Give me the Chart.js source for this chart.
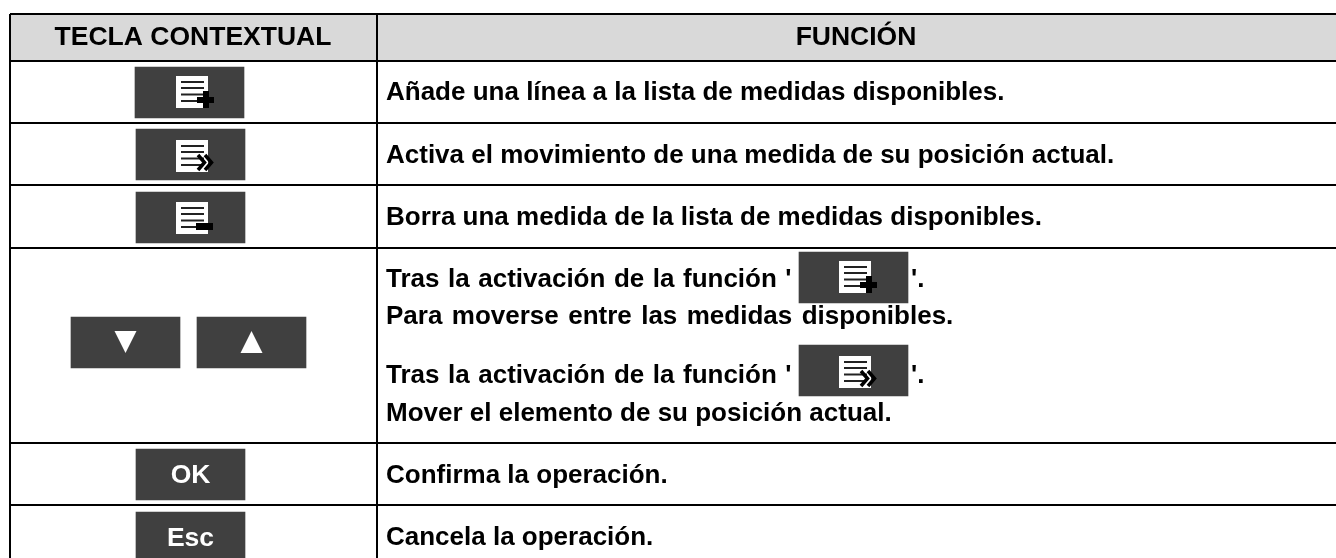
<!DOCTYPE html>
<html>
<head>
<meta charset="utf-8">
<script src="https://cdn.jsdelivr.net/npm/chart.js@4"></script>
<style>
  html, body { margin: 0; padding: 0; background: #fff; }
  canvas { display: block; }
</style>
</head>
<body>
<canvas id="tabla" width="1336" height="558"></canvas>
<script>
/*********-datos de la tabla-*********/
const CABECERAS = ["TECLA CONTEXTUAL", "FUNCIÓN"];
const CABECERAS_X = [193, 856];
const CABECERA_Y = 45;

const FILAS = [
  "Añade una línea a la lista de medidas disponibles.",
  "Activa el movimiento de una medida de su posición actual.",
  "Borra una medida de la lista de medidas disponibles.",
  "Tras la activación de la función '",
  "'.",
  "Para moverse entre las medidas disponibles.",
  "Tras la activación de la función '",
  "'.",
  "Mover el elemento de su posición actual.",
  "Confirma la operación.",
  "Cancela la operación."
];
const FILAS_X = [386, 386, 386, 386, 911, 386, 386, 911, 386, 386, 386];
const FILAS_Y = [100, 163, 225, 287, 287, 324, 383, 383, 421, 483, 545];
// las lineas con tecla dentro van con los espacios mas anchos
const FILAS_ESPACIO = [0, 0, 0, 1.3, 0, 2.2, 1.3, 0, 0, 0, 0];

// lineas de la tabla
const LINEAS_Y = [14, 61, 123, 185, 248, 443, 505];
const LINEAS_X = [10, 377];

// teclas
const TECLAS_ICONO = ["mas", "flecha", "menos", "abajo", "arriba", "mas", "flecha", "", ""];
const TECLAS_TEXTO = ["", "", "", "", "", "", "", "OK", "Esc"];
const TECLAS_INICIO = [135, 136, 136, 71, 197, 799, 799, 136, 136];
const TECLAS_FIN = [244, 245, 245, 180, 306, 908, 908, 245, 245];
const TECLAS_CENTRO = [92.5, 154.5, 217.5, 342.5, 342.5, 277.5, 370.5, 474.5, 537.5];
// esquina del papelito blanco dentro de cada tecla
const ICONOS_X = [176, 176, 176, 0, 0, 839, 839, 0, 0];
const ICONOS_Y = [76, 140, 202, 0, 0, 261, 356, 0, 0];
//------------------------------------//

const FUENTE = "'Liberation Sans', Arial, sans-serif";

function dibujarTriangulo(ctx, tipo, cx, arr) {
  ctx.fillStyle = "#fff";
  ctx.beginPath();
  if (tipo === "abajo") {
    ctx.moveTo(cx - 11, arr);
    ctx.lineTo(cx + 11, arr);
    ctx.lineTo(cx, arr + 22);
  } else {
    ctx.moveTo(cx - 11, arr + 22);
    ctx.lineTo(cx + 11, arr + 22);
    ctx.lineTo(cx, arr);
  }
  ctx.fill();
}

function dibujarPapel(ctx, tipo, ix, iy) {
  ctx.fillStyle = "#fff";
  ctx.fillRect(ix, iy, 32, 32);
  ctx.fillStyle = "#222";
  ctx.fillRect(ix + 5, iy + 5, 23, 2);
  ctx.fillRect(ix + 5, iy + 11, 23, 2);
  ctx.fillRect(ix + 5, iy + 17.5, 23, 2);
  ctx.fillRect(ix + 5, iy + 24, 23, 2);
  ctx.fillStyle = "#000";
  if (tipo === "mas") {
    ctx.fillRect(ix + 21, iy + 21, 17, 6);
    ctx.fillRect(ix + 27, iy + 15, 6, 17);
  } else if (tipo === "menos") {
    ctx.fillRect(ix + 20, iy + 21, 17, 7);
  } else if (tipo === "flecha") {
    // las dos puntas de flecha, con hueco entre ellas
    ctx.strokeStyle = "#000";
    ctx.lineWidth = 3.5;
    [0, 7].forEach(d => {
      ctx.beginPath();
      ctx.moveTo(ix + 22 + d, iy + 15);
      ctx.lineTo(ix + 28.5 + d, iy + 22.5);
      ctx.lineTo(ix + 22 + d, iy + 30);
      ctx.stroke();
    });
  }
}

/*********-textos e iconos encima de las barras-*********/
const pluginTextos = {
  id: "textos",
  afterDatasetsDraw(chart) {
    const ctx = chart.ctx;
    const esX = chart.scales.x;
    const esY = chart.scales.y;
    ctx.save();
    ctx.textBaseline = "alphabetic";
    ctx.fillStyle = "#000";
    ctx.font = "bold 26.5px " + FUENTE;
    ctx.textAlign = "center";
    CABECERAS.forEach((t, i) => {
      ctx.fillText(t, esX.getPixelForValue(CABECERAS_X[i]), esY.getPixelForValue(CABECERA_Y));
    });
    ctx.font = "bold 26px " + FUENTE;
    ctx.textAlign = "left";
    FILAS.forEach((t, i) => {
      ctx.wordSpacing = FILAS_ESPACIO[i] + "px";
      ctx.fillText(t, esX.getPixelForValue(FILAS_X[i]), esY.getPixelForValue(FILAS_Y[i]));
    });
    ctx.wordSpacing = "0px";
    ctx.font = "bold 26.5px " + FUENTE;
    TECLAS_ICONO.forEach((tipo, i) => {
      const x = esX.getPixelForValue(TECLAS_INICIO[i]);
      const y = esY.getPixelForValue(TECLAS_CENTRO[i]) - 25.5;
      if (tipo === "abajo" || tipo === "arriba") {
        dibujarTriangulo(ctx, tipo, x + 54.5, y + 14);
      } else if (tipo) {
        dibujarPapel(ctx, tipo, esX.getPixelForValue(ICONOS_X[i]), esY.getPixelForValue(ICONOS_Y[i]));
      }
      if (TECLAS_TEXTO[i]) {
        ctx.fillStyle = "#fff";
        ctx.textAlign = "center";
        ctx.fillText(TECLAS_TEXTO[i], x + 54.5, y + 34);
      }
    });
    ctx.restore();
  }
};

const CTX = document.getElementById("tabla").getContext("2d");

new Chart(CTX, {
  type: "bar",
  data: {
    datasets: [
      {
        label: "cabecera",
        data: [{ y: (LINEAS_Y[0] + LINEAS_Y[1]) / 2, x: [LINEAS_X[0], 1336] }],
        backgroundColor: "#d9d9d9",
        barThickness: 47,
        grouped: false
      },
      {
        label: "teclas",
        data: TECLAS_INICIO.map((v, i) => ({ y: TECLAS_CENTRO[i], x: [v, TECLAS_FIN[i]] })),
        backgroundColor: "#404040",
        barThickness: 51,
        grouped: false
      }
    ]
  },
  plugins: [pluginTextos],
  options: {
    indexAxis: "y",
    responsive: false,
    animation: false,
    layout: { padding: { left: 10, top: 14, right: 0, bottom: 0 } },
    plugins: {
      legend: { display: false },
      tooltip: { enabled: false }
    },
    scales: {
      x: {
        type: "linear",
        min: 10,
        max: 1336,
        afterBuildTicks: (eje) => { eje.ticks = LINEAS_X.map(v => ({ value: v })); },
        ticks: { display: false },
        border: { display: false },
        grid: { color: "#000", lineWidth: 2, drawTicks: false, z: 1 }
      },
      y: {
        type: "linear",
        reverse: true,
        offset: false,
        min: 14,
        max: 558,
        afterBuildTicks: (eje) => { eje.ticks = LINEAS_Y.map(v => ({ value: v })); },
        ticks: { display: false },
        border: { display: false },
        grid: { color: "#000", lineWidth: 2, drawTicks: false, offset: false, z: 1 }
      }
    }
  }
});
</script>
</body>
</html>
